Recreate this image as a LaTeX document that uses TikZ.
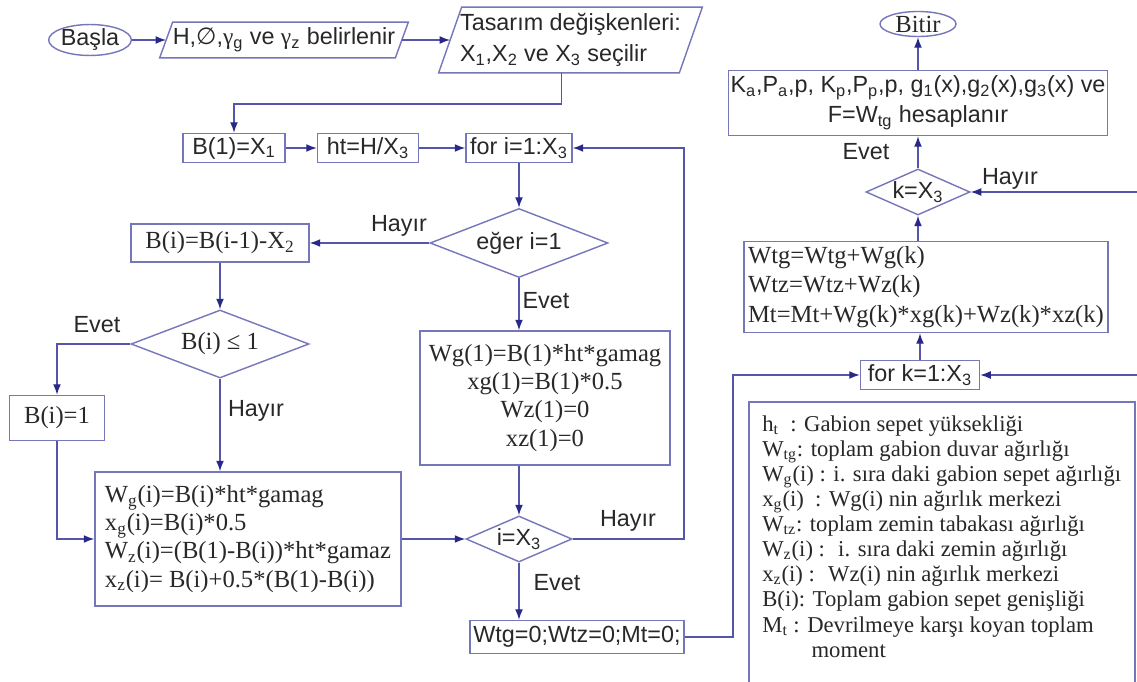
\documentclass[tikz,border=0pt]{standalone}
\usepackage{fontspec}
\setmainfont{Liberation Serif}
\setsansfont{Liberation Sans}
\newfontfamily\djv{DejaVu Sans}
\usetikzlibrary{shapes.geometric,arrows.meta,calc}
\definecolor{linec}{RGB}{85,85,172}
\definecolor{boxc}{RGB}{118,118,186}
\definecolor{tipc}{RGB}{40,40,135}
\definecolor{txt}{RGB}{40,40,40}
\newlength{\pxu}\setlength{\pxu}{0.02cm}
\begin{document}
\begin{tikzpicture}[x=0.02cm,y=-0.02cm,
  every node/.style={text=txt},
  sfs/.style={font=\sffamily\fontsize{13.3}{16}\selectfont},
  rms/.style={font=\rmfamily\fontsize{14}{16}\selectfont},
  pbox/.style={draw=boxc,line width=0.8pt,rectangle,inner sep=2pt},
  pdia/.style={draw=boxc,line width=0.8pt,diamond,inner sep=0pt},
  pterm/.style={draw=boxc,line width=0.8pt,ellipse,inner sep=0pt},
  pline/.style={draw=linec,line width=0.8pt},
  parr/.style={pline,-{Latex[length=6pt,width=4.5pt,color=tipc]}},
  plbl/.style={sfs,inner sep=0pt},
]
\useasboundingbox (0,0) rectangle (1137,682);
\clip (0,0) rectangle (1137,682);
\fill[white] (0,0) rectangle (1137,682);

% --- top row
\node[pterm,sfs,minimum width=72\pxu,minimum height=25\pxu] (basla) at (90,40) {Başla};
\node[sfs,inner sep=0pt,minimum width=235\pxu,minimum height=35\pxu] (p1) at (284,40)
  {H,{\djv ∅},{\rmfamily γ}\textsubscript{g} ve {\rmfamily γ}\textsubscript{z} belirlenir};
\draw[draw=boxc,line width=0.8pt] ($(p1.south west)+(-6.5,0)$) -- ($(p1.north west)+(6.5,0)$)
  -- ($(p1.north east)+(6.5,0)$) -- ($(p1.south east)+(-6.5,0)$) -- cycle;
\node[sfs,inner sep=0pt,minimum width=240\pxu,minimum height=65\pxu,align=left] (p2) at (570.5,40)
  {Tasarım değişkenleri:\\[2pt]X\textsubscript{1},X\textsubscript{2} ve X\textsubscript{3} seçilir};
\draw[draw=boxc,line width=0.8pt] ($(p2.south west)+(-11.5,0)$) -- ($(p2.north west)+(11.5,0)$)
  -- ($(p2.north east)+(11.5,0)$) -- ($(p2.south east)+(-11.5,0)$) -- cycle;
\draw[parr] (basla) -- (p1);
\draw[parr] (p1) -- (p2);

% --- second row
\node[pbox,sfs,minimum width=102\pxu,minimum height=29\pxu] (b1) at (234,148) {B(1)=X\textsubscript{1}};
\node[pbox,sfs,minimum width=101\pxu,minimum height=29\pxu] (ht) at (368,148) {ht=H/X\textsubscript{3}};
\node[pbox,sfs,minimum width=106\pxu,minimum height=29\pxu] (fori) at (519,148) {for i=1:X\textsubscript{3}};
\coordinate (c1) at (234,104);
\draw[parr] ($(p2.south)+(-9,0)$) |- (c1) -- (b1);
\draw[parr] (b1) -- (ht);
\draw[parr] (ht) -- (fori);

% --- i loop
\node[pdia,sfs,minimum width=178\pxu,minimum height=69\pxu,aspect=2.58] (eger) at (519,243) {eğer i=1};
\draw[parr] (fori) -- (eger);
\node[pbox,rms,minimum width=178\pxu,minimum height=38\pxu] (bi) at (220,243) {B(i)=B(i-1)-X\textsubscript{2}};
\draw[parr] (eger) -- (bi);
\node[plbl] at (399,226) {Hayır};

\node[pdia,rms,minimum width=178\pxu,minimum height=68\pxu,aspect=2.6] (ble) at (220,344) {B(i) ≤ 1};
\draw[parr] (bi) -- (ble);
\node[pbox,rms,minimum width=95\pxu,minimum height=45\pxu] (bi1) at (57,418) {B(i)=1};
\draw[parr] (ble.west) -| (bi1.north);
\node[plbl] at (97,325) {Evet};

\node[pbox,rms,minimum width=306\pxu,minimum height=134\pxu,align=left] (big) at (248,539)
  {W\textsubscript{g}(i)=B(i)*ht*gamag\\
   x\textsubscript{g}(i)=B(i)*0.5\\
   W\textsubscript{z}(i)=(B(1)-B(i))*ht*gamaz\\
   x\textsubscript{z}(i)= B(i)+0.5*(B(1)-B(i))};
\draw[parr] (ble.south) -- (ble.south |- big.north);
\node[plbl] at (256,411) {Hayır};
\draw[parr] (bi1.south) |- (big.west);

\node[pdia,sfs,minimum width=106\pxu,minimum height=46\pxu,aspect=2.3] (ix) at (519,539) {i=X\textsubscript{3}};
\draw[parr] (big) -- (ix);

\node[pbox,rms,minimum width=250\pxu,minimum height=134\pxu,align=center] (wg1) at (545,398)
  {Wg(1)=B(1)*ht*gamag\\ xg(1)=B(1)*0.5\\ Wz(1)=0\\ xz(1)=0};
\draw[parr] (eger.south) -- (eger.south |- wg1.north);
\node[plbl] at (546,301) {Evet};
\draw[parr] (ix.north |- wg1.south) -- (ix.north);

\coordinate (r1) at (684,539);
\draw[parr] (ix.east) -- (r1) |- (fori.east);
\node[plbl] at (628,521) {Hayır};

\node[pbox,sfs,minimum width=214\pxu,minimum height=33\pxu] (wtg0) at (577,637) {Wtg=0;Wtz=0;Mt=0;};
\draw[parr] (ix.south) -- (ix.south |- wtg0.north);
\node[plbl] at (557,583) {Evet};

% --- k loop
\node[pbox,sfs,minimum width=119\pxu,minimum height=29\pxu] (fork) at (920,375) {for k=1:X\textsubscript{3}};
\coordinate (r2) at (733,637);
\draw[parr] (wtg0.east) -- (r2) |- (fork.west);
\coordinate (e1) at (1137,375);
\draw[parr] (e1) -- (fork.east);

\node[pbox,font=\rmfamily\fontsize{14}{17}\selectfont,minimum width=364\pxu,minimum height=91\pxu,align=left] (wtgb) at (926,287)
  {Wtg=Wtg+Wg(k)\\ Wtz=Wtz+Wz(k)\\ Mt=Mt+Wg(k)*xg(k)+Wz(k)*xz(k)};
\draw[parr] (fork.north) -- (fork.north |- wtgb.south);

\node[pdia,sfs,minimum width=104\pxu,minimum height=46\pxu,aspect=2.26] (kd) at (918,192) {k=X\textsubscript{3}};
\draw[parr] (kd.south |- wtgb.north) -- (kd.south);
\coordinate (e2) at (1137,192);
\draw[parr] (e2) -- (kd.east);
\node[plbl] at (1010,179) {Hayır};

\node[pbox,font=\sffamily\fontsize{13.3}{17}\selectfont,inner sep=1pt,minimum width=370\pxu,minimum height=65\pxu,align=center] (kbox) at (918,103)
  {K\textsubscript{a},P\textsubscript{a},p, K\textsubscript{p},P\textsubscript{p},p, g\textsubscript{1}(x),g\textsubscript{2}(x),g\textsubscript{3}(x) ve\\ F=W\textsubscript{tg} hesaplanır};
\draw[parr] (kd.north) -- (kd.north |- kbox.south);
\node[plbl] at (866,152) {Evet};

\node[pterm,rms,minimum width=76\pxu,minimum height=25\pxu] (bitir) at (918,24) {Bitir};
\draw[parr] (kbox) -- (bitir);

% --- legend
\draw[draw=boxc,line width=0.8pt] (749,402) rectangle (1135,700);
\node[anchor=north west,font=\rmfamily\fontsize{12.9}{14.3}\selectfont,align=left,inner sep=0pt] (legt) at (762,415)
  {h\textsubscript{t} \ : Gabion sepet yüksekliği\\
   W\textsubscript{tg}: toplam gabion duvar ağırlığı\\
   W\textsubscript{g}(i) : i. sıra daki gabion sepet ağırlığı\\
   x\textsubscript{g}(i) \ : Wg(i) nin ağırlık merkezi\\
   W\textsubscript{tz}: toplam zemin tabakası ağırlığı\\
   W\textsubscript{z}(i) : \ i. sıra daki zemin ağırlığı\\
   x\textsubscript{z}(i) : \ Wz(i) nin ağırlık merkezi\\
   B(i): Toplam gabion sepet genişliği\\
   M\textsubscript{t} : Devrilmeye karşı koyan toplam\\
   \hspace*{28pt}moment};
\end{tikzpicture}
\end{document}
